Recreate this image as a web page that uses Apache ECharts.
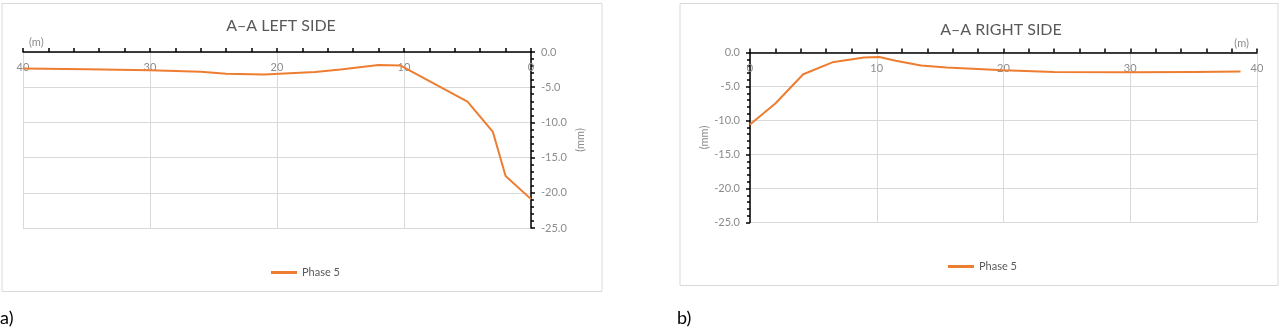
<!DOCTYPE html>
<html>
<head>
<meta charset="utf-8">
<script src="https://cdn.jsdelivr.net/npm/echarts@6/dist/echarts.min.js"></script>
<style>
html,body{margin:0;padding:0;background:#fff;}
#chart{width:1280px;height:330px;}
</style>
</head>
<body>
<div id="chart"></div>
<script>
// ---- data ----
const seriesName = 'Phase 5';
const leftTitle = 'A–A LEFT SIDE';
const rightTitle = 'A–A RIGHT SIDE';
const leftDist = [40, 35, 30, 26, 24, 21, 17, 15, 12, 10.3, 5, 3, 2, 0];
const leftVals = [-2.35, -2.45, -2.6, -2.8, -3.1, -3.2, -2.85, -2.5, -1.85, -1.9, -7.05, -11.35, -17.6, -20.9];
const rightDist = [0, 2, 4.2, 6.5, 9, 10.2, 11.5, 13.5, 15.5, 20, 24, 30, 35, 38.7];
const rightVals = [-10.6, -7.5, -3.2, -1.45, -0.75, -0.65, -1.2, -1.9, -2.2, -2.6, -2.85, -2.9, -2.85, -2.8];
const xTicks = [0, 10, 20, 30, 40];
const yTicks = [0, -5, -10, -15, -20, -25];

const FONT = 'Lato, "Open Sans", sans-serif';
const LINE = '#ED7D31';
const GRID = '#d9d9d9';
const LABEL = '#8c8c8c';

const chart = echarts.init(document.getElementById('chart'));

function xAxisCfg(gridIndex, inverse, nameAlign, nameGap) {
  return {
    type: 'value', gridIndex: gridIndex, position: 'top', inverse: inverse,
    min: xTicks[0], max: xTicks[xTicks.length - 1], interval: 10,
    name: '(m)', nameLocation: 'end', nameGap: nameGap,
    nameTextStyle: { color: LABEL, fontSize: 11, fontFamily: FONT, verticalAlign: 'bottom', align: nameAlign, padding: [0, 0, 4, 0] },
    axisLine: { show: true, onZero: false, lineStyle: { color: '#000', width: 1.5 } },
    axisTick: { show: true, inside: false, length: 4, lineStyle: { color: '#000', width: 1.5 } },
    minorTick: { show: true, splitNumber: 5, length: 4, lineStyle: { color: '#000', width: 1.5 } },
    axisLabel: { inside: true, margin: 10, color: LABEL, fontSize: 11, fontFamily: FONT },
    splitLine: { show: true, lineStyle: { color: GRID, width: 1 } }
  };
}
function yAxisCfg(gridIndex, position, nameGap) {
  return {
    type: 'value', gridIndex: gridIndex, position: position,
    min: yTicks[yTicks.length - 1], max: yTicks[0], interval: 5,
    name: '(mm)', nameLocation: 'middle', nameRotate: 90, nameGap: nameGap,
    nameTextStyle: { color: LABEL, fontSize: 11, fontFamily: FONT },
    axisLine: { show: true, onZero: false, lineStyle: { color: '#000', width: 1.5 } },
    axisTick: { show: true, length: 4, lineStyle: { color: '#000', width: 1.5 } },
    minorTick: { show: true, splitNumber: 5, length: 3, lineStyle: { color: '#000', width: 1.5 } },
    axisLabel: { margin: 10, color: LABEL, fontSize: 11, fontFamily: FONT, formatter: v => v.toFixed(1) },
    splitLine: { show: true, lineStyle: { color: GRID, width: 1 } }
  };
}

chart.setOption({
  animation: false,
  backgroundColor: '#fff',
  title: [
    { text: leftTitle, left: 281, top: 18, textAlign: 'center', padding: 0,
      textStyle: { color: '#595959', fontSize: 16, fontWeight: 'normal', fontFamily: FONT } },
    { text: rightTitle, left: 1001, top: 22, textAlign: 'center', padding: 0,
      textStyle: { color: '#595959', fontSize: 16, fontWeight: 'normal', fontFamily: FONT } }
  ],
  grid: [
    { left: 23, width: 508, top: 52, height: 176, containLabel: false },
    { left: 750, width: 507, top: 52.5, height: 170, containLabel: false }
  ],
  xAxis: [xAxisCfg(0, true, 'left', -6), xAxisCfg(1, false, 'right', -8)],
  yAxis: [yAxisCfg(0, 'right', 44), yAxisCfg(1, 'left', 40)],
  legend: [
    { data: [seriesName], left: 271, top: 267, padding: 0, icon: 'rect', itemWidth: 26, itemHeight: 3, itemGap: 2,
      textStyle: { color: '#595959', fontSize: 11, fontFamily: FONT } },
    { data: [seriesName], left: 948, top: 261, padding: 0, icon: 'rect', itemWidth: 26, itemHeight: 3, itemGap: 2,
      textStyle: { color: '#595959', fontSize: 11, fontFamily: FONT } }
  ],
  graphic: [
    { type: 'rect', shape: { x: 2, y: 3.5, width: 600, height: 288 }, style: { fill: 'none', stroke: '#d9d9d9', lineWidth: 1 }, silent: true, z: -1 },
    { type: 'rect', shape: { x: 680, y: 3.5, width: 598, height: 282 }, style: { fill: 'none', stroke: '#d9d9d9', lineWidth: 1 }, silent: true, z: -1 },
    { type: 'text', left: 0, top: 309, style: { text: 'a)', fontSize: 18, fontFamily: FONT, fill: '#000' } },
    { type: 'text', left: 677, top: 309, style: { text: 'b)', fontSize: 18, fontFamily: FONT, fill: '#000' } }
  ],
  series: [
    { name: seriesName, type: 'line', xAxisIndex: 0, yAxisIndex: 0, symbol: 'none', smooth: false,
      lineStyle: { color: LINE, width: 2 }, itemStyle: { color: LINE },
      data: leftDist.map((d, i) => [d, leftVals[i]]) },
    { name: seriesName, type: 'line', xAxisIndex: 1, yAxisIndex: 1, symbol: 'none', smooth: false,
      lineStyle: { color: LINE, width: 2 }, itemStyle: { color: LINE },
      data: rightDist.map((d, i) => [d, rightVals[i]]) }
  ]
});
</script>
</body>
</html>
